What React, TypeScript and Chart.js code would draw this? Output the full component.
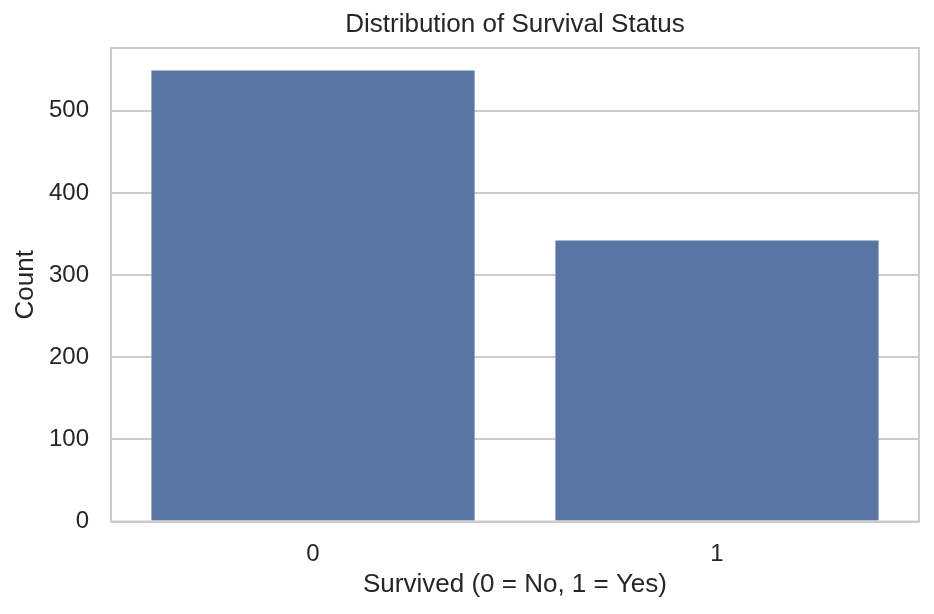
import { useEffect, useRef } from 'react';
import { Chart, registerables } from 'chart.js';

Chart.register(...registerables);

const categories = ['0', '1'];
const counts = [549, 342];
const yTicks = [0, 100, 200, 300, 400, 500];
const yMax = 576.45;
const chartTitle = 'Distribution of Survival Status';

const TEXT = '#262626';
const GRID = '#cccccc';
const BAR = '#5975a4';
const FONT = "'Liberation Sans', Arial, sans-serif";

// spines on all four sides, plus the title centred over the plot area (matplotlib style)
const frame = {
  id: 'frame',
  afterDraw(chart: any) {
    const { ctx, chartArea } = chart;
    ctx.save();
    ctx.strokeStyle = GRID;
    ctx.lineWidth = 2;
    ctx.strokeRect(chartArea.left, chartArea.top, chartArea.right - chartArea.left, chartArea.bottom - chartArea.top);
    ctx.fillStyle = TEXT;
    ctx.font = `26px ${FONT}`;
    ctx.textAlign = 'center';
    ctx.textBaseline = 'alphabetic';
    ctx.fillText(chartTitle, (chartArea.left + chartArea.right) / 2, 32);
    ctx.restore();
  },
};

function SurvivalChart() {
  const canvasRef = useRef<HTMLCanvasElement>(null);

  useEffect(() => {
    document.body.style.margin = '0';
    const canvas = canvasRef.current;
    if (!canvas) return;
    const chart = new Chart(canvas, {
      type: 'bar',
      data: {
        labels: categories,
        datasets: [{
          data: counts,
          backgroundColor: BAR,
          borderWidth: 0,
          categoryPercentage: 0.8,
          barPercentage: 1,
        }],
      },
      options: {
        responsive: false,
        animation: false,
        layout: { padding: { left: 0, right: 15, top: 48, bottom: 0 } },
        plugins: {
          legend: { display: false },
          tooltip: { enabled: false },
          title: { display: false },
        },
        scales: {
          x: {
            offset: true,
            grid: { display: false, drawTicks: false },
            border: { display: false },
            ticks: { color: TEXT, font: { family: FONT, size: 24 }, padding: 18 },
            title: {
              display: true,
              text: 'Survived (0 = No, 1 = Yes)',
              color: TEXT,
              font: { family: FONT, size: 26 },
              padding: { top: 0, bottom: 14 },
            },
            afterFit(scale: any) {
              scale.height = 92.5;
            },
          },
          y: {
            min: 0,
            max: yMax,
            grid: { color: GRID, lineWidth: 2, drawTicks: false },
            border: { display: false },
            ticks: { color: TEXT, font: { family: FONT, size: 24 }, padding: 22 },
            afterBuildTicks(scale: any) {
              scale.ticks = yTicks.map((v) => ({ value: v }));
            },
            title: {
              display: true,
              text: 'Count',
              color: TEXT,
              font: { family: FONT, size: 26 },
              padding: { top: 10, bottom: 0 },
            },
            afterFit(scale: any) {
              scale.width = 111;
            },
          },
        },
      },
      plugins: [frame],
    });
    return () => {
      chart.destroy();
    };
  }, []);

  return <canvas ref={canvasRef} width={934} height={614} />;
}

export default function App() {
  return (
    <div style={{ width: 934, height: 614, background: '#ffffff' }}>
      <SurvivalChart />
    </div>
  );
}
